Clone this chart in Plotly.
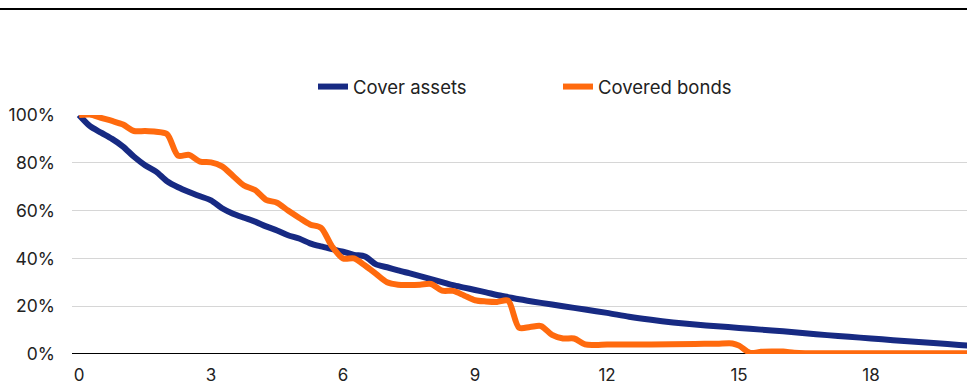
import plotly.graph_objects as go

# Years (quarterly) and remaining share (%)
years_assets = [0, 0.25, 0.5, 0.75, 1.0, 1.25, 1.5, 1.75, 2.0, 2.25, 2.5, 2.75, 3.0, 3.25, 3.5, 3.75,
                4.0, 4.25, 4.5, 4.75, 5.0, 5.25, 5.5, 5.75, 6.0, 6.25, 6.5, 6.75, 7.0, 7.25, 7.5, 7.75,
                8.0, 8.25, 8.5, 8.75, 9.0, 9.25, 9.5, 9.75, 10.0, 10.5, 11.0, 11.5, 12.0, 12.5, 13.0,
                13.5, 14.0, 14.5, 15.0, 15.5, 16.0, 16.5, 17.0, 17.5, 18.0, 18.5, 19.0, 19.5, 20.0, 20.25]
cover_assets = [100, 95.3, 92.6, 90.0, 86.8, 82.5, 79.0, 76.3, 72.3, 69.8, 67.8, 66.0, 64.3, 61.0, 58.7, 57.0,
                55.4, 53.4, 51.7, 49.7, 48.3, 46.3, 45.0, 43.9, 42.8, 41.5, 40.8, 37.5, 36.3, 35.0, 33.8, 32.6,
                31.3, 30.1, 28.8, 27.8, 26.8, 25.8, 24.7, 23.8, 22.9, 21.4, 20.0, 18.6, 17.2, 15.6, 14.3,
                13.2, 12.3, 11.6, 10.9, 10.2, 9.5, 8.7, 7.9, 7.2, 6.5, 5.8, 5.1, 4.5, 3.8, 3.4]

years_bonds = [0, 0.25, 0.5, 0.75, 1.0, 1.25, 1.5, 1.75, 2.0, 2.25, 2.5, 2.75, 3.0, 3.25, 3.5, 3.75,
               4.0, 4.25, 4.5, 4.75, 5.0, 5.25, 5.5, 5.75, 6.0, 6.25, 6.5, 6.75, 7.0, 7.25, 7.5, 7.75,
               8.0, 8.25, 8.5, 8.75, 9.0, 9.25, 9.5, 9.75, 10.0, 10.25, 10.5, 10.75, 11.0, 11.25, 11.5,
               11.75, 12.0, 13.0, 14.0, 14.5, 14.85, 15.0, 15.25, 15.5, 15.75, 16.0, 16.25, 16.5, 17.0,
               18.0, 19.0, 20.0, 20.25]
covered_bonds = [100, 100.2, 98.8, 97.5, 96.0, 93.3, 93.3, 93.0, 92.0, 83.0, 83.3, 80.5, 80.2, 78.5, 74.5, 70.5,
                 68.6, 64.5, 63.3, 60.0, 57.0, 54.2, 52.8, 45.0, 40.0, 40.0, 37.0, 33.5, 30.0, 29.0, 28.9, 29.0,
                 29.3, 26.5, 26.4, 24.5, 22.5, 22.0, 21.8, 22.3, 11.0, 11.3, 11.7, 8.0, 6.5, 6.5, 4.0,
                 3.8, 4.0, 4.0, 4.2, 4.3, 4.4, 3.5, 0.5, 0.9, 1.0, 1.0, 0.5, 0.3, 0.3,
                 0.3, 0.3, 0.3, 0.3]

x_ticks = [0, 3, 6, 9, 12, 15, 18]
y_ticks = [0, 20, 40, 60, 80, 100]
y_tick_labels = ["0%", "20%", "40%", "60%", "80%", "100%"]

BLUE = "#172a83"
ORANGE = "#ff6a0e"
FONT = "Inter"
TXT = "#222222"

fig = go.Figure()
fig.add_trace(go.Scatter(x=years_assets, y=cover_assets, name="Cover assets", mode="lines",
                         line=dict(color=BLUE, width=6, shape="spline", smoothing=0.8)))
fig.add_trace(go.Scatter(x=years_bonds, y=covered_bonds, name="Covered bonds", mode="lines",
                         line=dict(color=ORANGE, width=6, shape="spline", smoothing=0.8)))

fig.update_layout(
    width=967, height=383,
    margin=dict(l=72, r=0, t=115, b=29, autoexpand=False),
    paper_bgcolor="white", plot_bgcolor="white",
    font=dict(family=FONT, size=17.5, color=TXT),
    showlegend=True,
    legend=dict(orientation="h", x=0.543, xanchor="center", y=1.117, yanchor="middle",
                font=dict(family=FONT, size=18.5, color=TXT), entrywidth=200,
                bgcolor="rgba(0,0,0,0)"),
    xaxis=dict(range=[-0.16, 20.18], tickvals=x_ticks, showgrid=False, zeroline=False,
               showline=False, ticks="", ticklabelstandoff=9, automargin=False,
               tickfont=dict(family=FONT, size=17, color=TXT)),
    yaxis=dict(range=[0, 100], tickvals=y_ticks, ticktext=y_tick_labels,
               showgrid=True, gridcolor="#d6d6d6", gridwidth=1, automargin=False,
               zeroline=False, showline=False, ticks="", ticklabelstandoff=16,
               tickfont=dict(family=FONT, size=17.5, color=TXT)),
    shapes=[
        dict(type="line", xref="paper", yref="y", x0=0, x1=1, y0=0, y1=0,
             line=dict(color="black", width=2), layer="below"),
        dict(type="line", xref="paper", yref="paper", x0=-0.09, x1=1, y0=1.4435, y1=1.4435,
             line=dict(color="black", width=2)),
    ],
)

fig.write_html("out.html", config={"displayModeBar": False},
               post_script="document.body.style.margin='0';document.body.style.overflow='hidden';")
